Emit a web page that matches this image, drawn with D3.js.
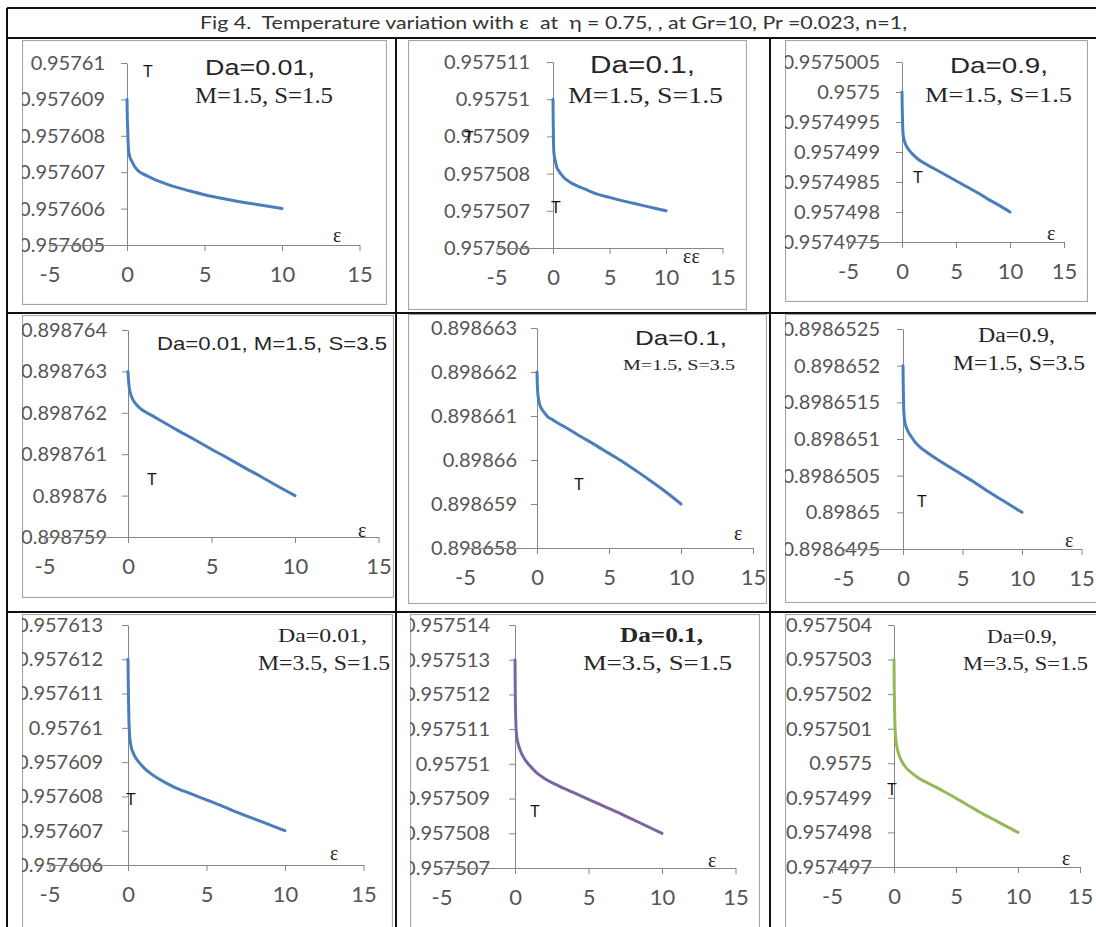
<!DOCTYPE html>
<html>
<head>
<meta charset="utf-8">
<script src="https://cdn.jsdelivr.net/npm/d3@7"></script>
<style>
  html, body { margin: 0; padding: 0; background: #fff; }
  svg { display: block; }
</style>
</head>
<body>
<div id="fig"></div>
<script>
// epsilon values shared by every panel
const eps = [0, 0.02, 0.05, 0.1, 0.2, 0.35, 0.5, 0.75, 1, 1.5, 2, 3, 4, 5, 6, 7, 8, 9, 10];

// T(eps)
const T_da001_m15_s15 = [0.957609, 0.9576085, 0.9576081, 0.9576076, 0.9576074, 0.95760727, 0.95760715, 0.95760703, 0.95760696, 0.95760686, 0.95760676, 0.95760661, 0.95760649, 0.95760638, 0.95760629, 0.95760621, 0.95760614, 0.95760607, 0.957606];
const T_da01_m15_s15 = [0.95751, 0.9575094, 0.95750875, 0.9575085, 0.95750835, 0.95750816, 0.95750808, 0.95750797, 0.95750788, 0.95750777, 0.95750769, 0.95750756, 0.95750744, 0.95750736, 0.95750728, 0.95750721, 0.95750714, 0.95750707, 0.957507];
const T_da09_m15_s15 = [0.9575, 0.95749975, 0.9574995, 0.9574993, 0.9574992, 0.95749912, 0.95749907, 0.95749901, 0.95749896, 0.95749888, 0.95749882, 0.95749872, 0.95749862, 0.95749852, 0.95749842, 0.95749832, 0.95749821, 0.95749811, 0.957498];
const T_da001_m15_s35 = [0.898763, 0.89876285, 0.8987627, 0.89876255, 0.8987624, 0.89876228, 0.8987622, 0.8987621, 0.89876203, 0.89876192, 0.8987618, 0.89876157, 0.89876135, 0.89876112, 0.8987609, 0.89876067, 0.89876045, 0.89876022, 0.89876];
const T_da01_m15_s35 = [0.898662, 0.89866175, 0.89866154, 0.8986614, 0.89866125, 0.89866115, 0.89866108, 0.89866098, 0.89866093, 0.89866083, 0.89866074, 0.89866054, 0.89866035, 0.89866015, 0.89865995, 0.89865973, 0.8986595, 0.89865926, 0.898659];
const T_da09_m15_s35 = [0.898652, 0.89865175, 0.89865145, 0.8986513, 0.8986512, 0.89865113, 0.89865108, 0.89865102, 0.89865096, 0.89865088, 0.89865082, 0.89865071, 0.89865061, 0.89865051, 0.89865041, 0.8986503, 0.8986502, 0.8986501, 0.89865];
const T_da001_m35_s15 = [0.957612, 0.9576112, 0.9576104, 0.9576098, 0.95760945, 0.95760925, 0.95760912, 0.95760897, 0.95760884, 0.95760865, 0.9576085, 0.95760826, 0.95760808, 0.9576079, 0.95760772, 0.95760753, 0.95760735, 0.95760718, 0.957607];
const T_da01_m35_s15 = [0.957513, 0.957512, 0.9575113, 0.95751085, 0.9575106, 0.9575104, 0.95751025, 0.95751008, 0.95750995, 0.95750973, 0.95750958, 0.95750936, 0.95750917, 0.95750898, 0.95750879, 0.9575086, 0.9575084, 0.9575082, 0.957508];
const T_da09_m35_s15 = [0.957503, 0.9575022, 0.9575015, 0.9575009, 0.95750055, 0.9575003, 0.95750015, 0.95749998, 0.95749986, 0.9574997, 0.95749957, 0.95749938, 0.95749919, 0.95749899, 0.95749878, 0.95749857, 0.95749838, 0.95749819, 0.957498];

// axis ticks
const xTicks = [-5, 0, 5, 10, 15];
const yt_da001_m15_s15 = [0.957605, 0.957606, 0.957607, 0.957608, 0.957609, 0.95761];
const yt_da01_m15_s15 = [0.957506, 0.957507, 0.957508, 0.957509, 0.95751, 0.957511];
const yt_da09_m15_s15 = [0.9574975, 0.957498, 0.9574985, 0.957499, 0.9574995, 0.9575, 0.9575005];
const yt_da001_m15_s35 = [0.898759, 0.89876, 0.898761, 0.898762, 0.898763, 0.898764];
const yt_da01_m15_s35 = [0.898658, 0.898659, 0.89866, 0.898661, 0.898662, 0.898663];
const yt_da09_m15_s35 = [0.8986495, 0.89865, 0.8986505, 0.898651, 0.8986515, 0.898652, 0.8986525];
const yt_da001_m35_s15 = [0.957606, 0.957607, 0.957608, 0.957609, 0.95761, 0.957611, 0.957612, 0.957613];
const yt_da01_m35_s15 = [0.957507, 0.957508, 0.957509, 0.95751, 0.957511, 0.957512, 0.957513, 0.957514];
const yt_da09_m35_s15 = [0.957497, 0.957498, 0.957499, 0.9575, 0.957501, 0.957502, 0.957503, 0.957504];

const figTitle = "Fig 4.  Temperature variation with \u03b5  at  \u03b7 = 0.75, , at Gr=10, Pr =0.023, n=1,";

const BLUE = "#4a7ebb", PURPLE = "#7b64a0", GREEN = "#95b858";
const SANS = "'Liberation Sans', Arial, sans-serif";
const SERIF = "'Liberation Serif', 'Times New Roman', serif";
const TICKF = "Lato, 'Open Sans', sans-serif";

// panel layout (pixels) -- kept apart from the data above
const panels = [
  {T: T_da001_m15_s15, yt: yt_da001_m15_s15, color: BLUE, frame: [22, 40, 387, 305], xr: [49.5, 359.5], yr: [245, 63], pad: 16,
   notes: [{t: "Da=0.01,", x: 205, y: 75, f: SANS, s: 22, w: 110}, {t: "M=1.5, S=1.5", x: 195, y: 103, f: SERIF, s: 23, w: 138}],
   tl: [{x: 143, y: 77}], el: {t: "\u03b5", x: 333, y: 242}},
  {T: T_da01_m15_s15, yt: yt_da01_m15_s15, color: BLUE, frame: [408, 40, 747, 310], xr: [496.5, 722.5], yr: [248, 62], pad: 17,
   notes: [{t: "Da=0.1,", x: 590, y: 73, f: SANS, s: 23, w: 105}, {t: "M=1.5, S=1.5", x: 568, y: 103, f: SERIF, s: 24, w: 155}],
   tl: [{x: 551, y: 213}, {x: 464, y: 143}], el: {t: "\u03b5\u03b5", x: 683, y: 263}},
  {T: T_da09_m15_s15, yt: yt_da09_m15_s15, color: BLUE, frame: [785, 40, 1088, 302], xr: [848, 1064], yr: [242, 62], pad: 16,
   notes: [{t: "Da=0.9,", x: 950, y: 73, f: SANS, s: 22, w: 98}, {t: "M=1.5, S=1.5", x: 925, y: 102, f: SERIF, s: 22, w: 147}],
   tl: [{x: 913, y: 183}], el: {t: "\u03b5", x: 1047, y: 240}},
  {T: T_da001_m15_s35, yt: yt_da001_m15_s35, color: BLUE, frame: [22, 315, 394, 598], xr: [44.5, 378.5], yr: [537, 330], pad: 15,
   notes: [{t: "Da=0.01, M=1.5, S=3.5", x: 157, y: 350, f: SANS, s: 19, w: 230}],
   tl: [{x: 147, y: 485}], el: {t: "\u03b5", x: 358, y: 537}},
  {T: T_da01_m15_s35, yt: yt_da01_m15_s35, color: BLUE, frame: [408, 314, 767, 604], xr: [465, 753], yr: [548, 328], pad: 14,
   notes: [{t: "Da=0.1,", x: 635, y: 345, f: SANS, s: 21, w: 92}, {t: "M=1.5, S=3.5", x: 623, y: 370, f: SERIF, s: 15, w: 112}],
   tl: [{x: 574, y: 490}], el: {t: "\u03b5", x: 734, y: 540}},
  {T: T_da09_m15_s35, yt: yt_da09_m15_s35, color: BLUE, frame: [785, 314, 1100, 603], xr: [843.5, 1081.5], yr: [549, 329], pad: 17,
   notes: [{t: "Da=0.9,", x: 978, y: 342, f: SERIF, s: 20, w: 77}, {t: "M=1.5, S=3.5", x: 953, y: 370, f: SERIF, s: 20, w: 132}],
   tl: [{x: 917, y: 507}], el: {t: "\u03b5", x: 1065, y: 547}},
  {T: T_da001_m35_s15, yt: yt_da001_m35_s15, color: BLUE, frame: [22, 614, 393, 940], xr: [49.5, 363.5], yr: [865, 625], pad: 19,
   notes: [{t: "Da=0.01,", x: 278, y: 642, f: SERIF, s: 19, w: 89}, {t: "M=3.5, S=1.5", x: 258, y: 670, f: SERIF, s: 20, w: 132}],
   tl: [{x: 126, y: 805}], el: {t: "\u03b5", x: 330, y: 860}},
  {T: T_da01_m35_s15, yt: yt_da01_m35_s15, color: PURPLE, frame: [410, 614, 760, 940], xr: [441.5, 735.5], yr: [868, 625], pad: 19,
   notes: [{t: "Da=0.1,", x: 620, y: 642, f: SERIF, s: 20, w: 83, b: true}, {t: "M=3.5, S=1.5", x: 583, y: 670, f: SERIF, s: 20, w: 149}],
   tl: [{x: 530, y: 817}], el: {t: "\u03b5", x: 708, y: 867}},
  {T: T_da09_m35_s15, yt: yt_da09_m35_s15, color: GREEN, frame: [785, 614, 1100, 940], xr: [832, 1080], yr: [867, 625], pad: 16,
   notes: [{t: "Da=0.9,", x: 987, y: 643, f: SERIF, s: 18, w: 70}, {t: "M=3.5, S=1.5", x: 963, y: 670, f: SERIF, s: 18, w: 125}],
   tl: [{x: 887, y: 795}], el: {t: "\u03b5", x: 1062, y: 865}}
];

const svg = d3.select("#fig").append("svg")
  .attr("width", 1096).attr("height", 927);

svg.append("rect").attr("width", 1096).attr("height", 927).attr("fill", "#fff");

const defs = svg.append("defs");
const fmt = d => String(+d.toFixed(7));

function drawPanel(p, i) {
  const [fx0, fy0, fx1, fy1] = p.frame;
  defs.append("clipPath").attr("id", "clip" + i)
    .append("rect").attr("x", fx0).attr("y", fy0).attr("width", fx1 - fx0).attr("height", fy1 - fy0);

  const g = svg.append("g").attr("clip-path", "url(#clip" + i + ")");

  g.append("rect")
    .attr("x", fx0 + 0.5).attr("y", fy0 + 0.5)
    .attr("width", fx1 - fx0 - 1).attr("height", fy1 - fy0 - 1)
    .attr("fill", "#fff").attr("stroke", "#a6a6a6").attr("stroke-width", 1.2);

  const x = d3.scaleLinear().domain([-5, 15]).range(p.xr);
  const y = d3.scaleLinear().domain([p.yt[0], p.yt[p.yt.length - 1]]).range(p.yr);

  const yAxis = g.append("g")
    .attr("transform", "translate(" + x(0) + ",0)")
    .call(d3.axisLeft(y).tickValues(p.yt).tickFormat(fmt).tickSize(6).tickSizeOuter(0).tickPadding(p.pad));

  const xAxis = g.append("g")
    .attr("transform", "translate(0," + y(p.yt[0]) + ")")
    .call(d3.axisBottom(x).tickValues(xTicks).tickFormat(d => String(d)).tickSize(6).tickSizeOuter(0).tickPadding(15));

  [yAxis, xAxis].forEach(a => {
    a.select(".domain").attr("stroke", "#868686");
    a.selectAll(".tick line").attr("stroke", "#868686");
    a.selectAll(".tick text")
      .attr("fill", "#555")
      .style("font-family", TICKF);
  });
  yAxis.selectAll(".tick text").style("font-size", "20px");
  xAxis.selectAll(".tick text").style("font-size", "22px");

  const pts = eps.map((e, k) => [e, p.T[k]]);
  g.append("path")
    .datum(pts)
    .attr("fill", "none")
    .attr("stroke", p.color)
    .attr("stroke-width", 3)
    .attr("stroke-linecap", "round")
    .attr("stroke-linejoin", "round")
    .attr("d", d3.line().x(d => x(d[0])).y(d => y(d[1])).curve(d3.curveMonotoneX));

  p.notes.forEach(n => {
    g.append("text")
      .attr("x", n.x).attr("y", n.y)
      .attr("textLength", n.w).attr("lengthAdjust", "spacingAndGlyphs")
      .style("font-family", n.f).style("font-size", n.s + "px")
      .style("font-weight", n.b ? "bold" : "normal")
      .style("white-space", "pre")
      .attr("fill", "#262626")
      .text(n.t);
  });

  p.tl.forEach(t => {
    g.append("text")
      .attr("x", t.x).attr("y", t.y)
      .style("font-family", SANS).style("font-size", "16px")
      .attr("fill", "#111")
      .text("T");
  });

  g.append("text")
    .attr("x", p.el.x).attr("y", p.el.y)
    .style("font-family", SERIF).style("font-size", "20px")
    .attr("fill", "#222")
    .text(p.el.t);
}

panels.forEach(drawPanel);

// table grid
const grid = svg.append("g").attr("stroke", "#111").attr("stroke-width", 2).attr("fill", "none");
grid.append("line").attr("x1", 7).attr("x2", 1096).attr("y1", 8).attr("y2", 8);
grid.append("line").attr("x1", 7).attr("x2", 1096).attr("y1", 38).attr("y2", 38);
grid.append("line").attr("x1", 7).attr("x2", 1096).attr("y1", 313).attr("y2", 313);
grid.append("line").attr("x1", 7).attr("x2", 1096).attr("y1", 612).attr("y2", 612);
grid.append("line").attr("x1", 7).attr("x2", 7).attr("y1", 8).attr("y2", 927);
grid.append("line").attr("x1", 396).attr("x2", 396).attr("y1", 38).attr("y2", 927);
grid.append("line").attr("x1", 770).attr("x2", 770).attr("y1", 38).attr("y2", 927);

svg.append("text")
  .attr("x", 200).attr("y", 29)
  .attr("textLength", 707).attr("lengthAdjust", "spacingAndGlyphs")
  .style("font-family", TICKF).style("font-size", "17px")
  .style("white-space", "pre")
  .attr("fill", "#333")
  .text(figTitle);
</script>
</body>
</html>
